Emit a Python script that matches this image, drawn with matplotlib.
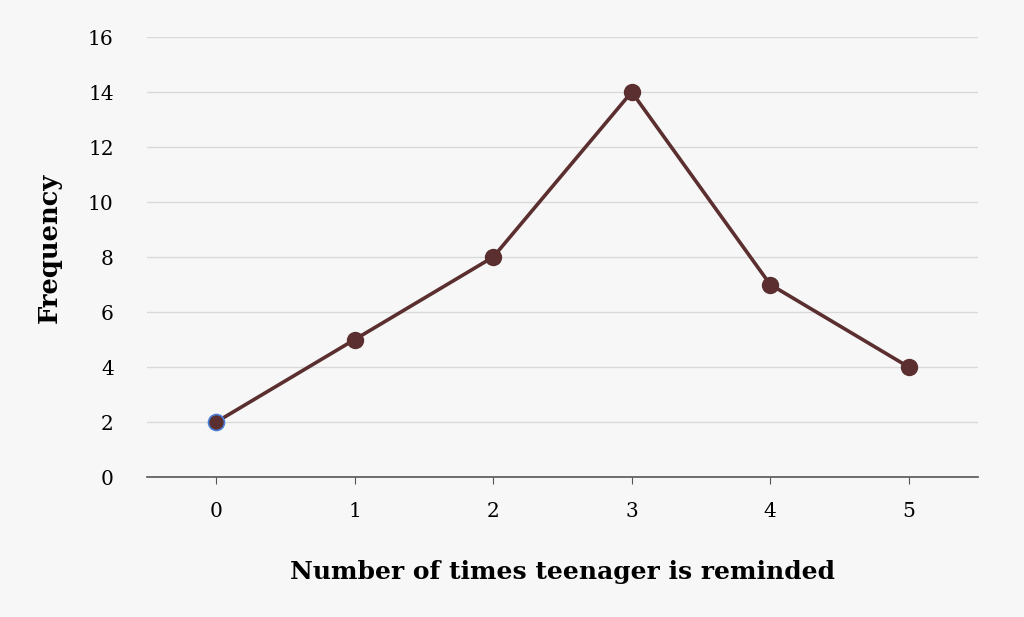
import matplotlib.pyplot as plt
import numpy as np

times_reminded = [0, 1, 2, 3, 4, 5]
frequency = [2, 5, 8, 14, 7, 4]
y_ticks = [0, 2, 4, 6, 8, 10, 12, 14, 16]

bg = '#f7f7f7'
line_color = '#5b2f2f'

plt.rcParams['font.family'] = ['DejaVu Serif']

fig = plt.figure(figsize=(10.24, 6.17), dpi=100, facecolor=bg)
ax = fig.add_axes([0.1436, 0.2269, 0.8114, 0.7131])
ax.set_facecolor(bg)

ax.plot(times_reminded, frequency, color=line_color, linewidth=2.6, zorder=3)
ax.plot(times_reminded[1:], frequency[1:], 'o', color=line_color, markersize=11.5, zorder=4)
ax.plot(times_reminded[0], frequency[0], 'o', color=line_color, markeredgecolor='#4a7fd6',
        markeredgewidth=1.2, markersize=11.5, zorder=4)

ax.set_xlim(-0.5, 5.5)
ax.set_ylim(0, 16)
ax.set_yticks(y_ticks)
ax.set_xticks(times_reminded)
ax.grid(axis='y', color='#d9d9d9', linewidth=1)
ax.set_axisbelow(True)

for s in ['top', 'right', 'left']:
    ax.spines[s].set_visible(False)
ax.spines['bottom'].set_color('#555555')
ax.spines['bottom'].set_linewidth(1.2)

ax.tick_params(axis='y', length=0, pad=24, labelsize=14.5)
ax.tick_params(axis='x', length=5, color='#555555', pad=13, labelsize=14.5)

ax.set_xlabel('Number of times teenager is reminded', fontsize=18, fontweight='bold', labelpad=28)
ax.set_ylabel('Frequency', fontsize=18.5, fontweight='bold')
ax.yaxis.set_label_coords(-0.103, 0.52)

fig.savefig('out.png', dpi=100, facecolor=bg)
